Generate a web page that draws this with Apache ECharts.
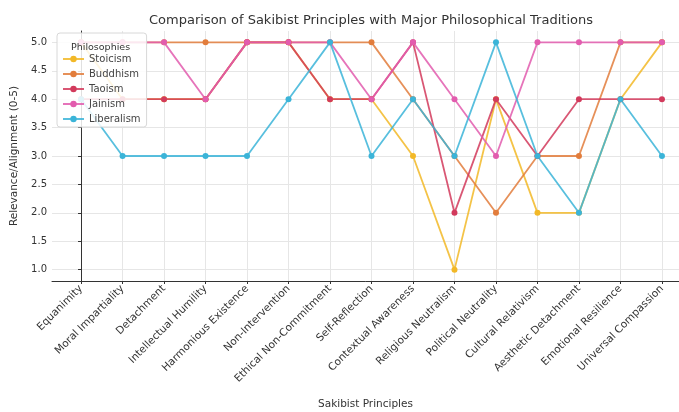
<!DOCTYPE html>
<html>
<head>
<meta charset="utf-8">
<script src="https://cdn.jsdelivr.net/npm/echarts@6/dist/echarts.min.js"></script>
<style>
html,body{margin:0;padding:0;background:#fff;}
#c{width:679px;height:412px;}
</style>
</head>
<body>
<div id="c"></div>
<script>
const categories = ["Equanimity","Moral Impartiality","Detachment","Intellectual Humility","Harmonious Existence","Non-Intervention","Ethical Non-Commitment","Self-Reflection","Contextual Awareness","Religious Neutralism","Political Neutrality","Cultural Relativism","Aesthetic Detachment","Emotional Resilience","Universal Compassion"];
const stoicism   = [5,4,4,4,5,5,4,4,3,1,4,2,2,4,5];
const buddhism   = [5,5,5,5,5,5,5,5,4,3,2,3,3,5,5];
const taoism     = [4,4,4,4,5,5,4,4,5,2,4,3,4,4,4];
const jainism    = [5,5,5,4,5,5,5,4,5,4,3,5,5,5,5];
const liberalism = [4,3,3,3,3,4,5,3,4,3,5,3,2,4,3];
const seriesNames = ["Stoicism","Buddhism","Taoism","Jainism","Liberalism"];
const seriesValues = [stoicism,buddhism,taoism,jainism,liberalism];
const colors = ["#f2b827","#e27d3c","#d23a5c","#e25cae","#3bb4d8"];
const yTicks = [1.0,1.5,2.0,2.5,3.0,3.5,4.0,4.5,5.0];
const xTicks = categories.map((_, i) => i);

const font = "DejaVu Sans";
const chart = echarts.init(document.getElementById('c'));
chart.setOption({
  animation: false,
  backgroundColor: '#fff',
  textStyle: {fontFamily: font},
  title: [
    {text: 'Comparison of Sakibist Principles with Major Philosophical Traditions', left: 366, top: 9, textAlign: 'center',
     textStyle: {fontFamily: font, fontSize: 13, fontWeight: 'normal', color: '#333'}},
    {text: 'Philosophies', left: 66, top: 38, textStyle: {fontFamily: font, fontSize: 9.5, fontWeight: 'normal', color: '#333'}}
  ],
  legend: {
    orient: 'vertical', left: 57, top: 33,
    padding: [21, 6, 3, 5], itemGap: 5, itemWidth: 21, itemHeight: 8,
    backgroundColor: 'rgba(255,255,255,0.85)', borderColor: '#d8d8d8', borderWidth: 1, borderRadius: 3,
    textStyle: {fontFamily: font, fontSize: 10, color: '#444'},
    data: seriesNames
  },
  grid: {left: 52, top: 31, width: 639, height: 250, containLabel: false, outerBoundsMode: 'none'},
  xAxis: {
    type: 'value', min: -0.7, max: 14.7,
    name: 'Sakibist Principles', nameLocation: 'middle', nameGap: 118,
    nameTextStyle: {fontFamily: font, fontSize: 10.5, color: '#333', padding: [0, 12, 0, 0]},
    axisLine: {show: true, onZero: false, lineStyle: {color: '#333', width: 1}},
    axisTick: {show: true, customValues: xTicks, length: 3, lineStyle: {color: '#333'}},
    axisLabel: {customValues: xTicks, rotate: 45, fontSize: 10.5, color: '#333', fontFamily: font, margin: 6,
      formatter: v => categories[Math.round(v)] || ''},
    splitLine: {show: true, lineStyle: {color: '#e6e6e6', width: 1}}
  },
  yAxis: {
    type: 'value', min: 0.8, max: 5.2,
    name: 'Relevance/Alignment (0-5)', nameLocation: 'middle', nameGap: 19,
    nameTextStyle: {fontFamily: font, fontSize: 10.5, color: '#333'},
    axisLine: {show: true, lineStyle: {color: '#333', width: 1}},
    axisTick: {show: true, customValues: yTicks, length: 3, lineStyle: {color: '#333'}},
    axisLabel: {customValues: yTicks, fontSize: 10, color: '#333', fontFamily: font, margin: 5,
      formatter: v => v.toFixed(1)},
    splitLine: {show: true, lineStyle: {color: '#e6e6e6', width: 1}}
  },
  series: seriesNames.map((n, k) => ({
    name: n, type: 'line',
    data: seriesValues[k].map((v, i) => [i, v]),
    symbol: 'circle', symbolSize: 6,
    itemStyle: {color: colors[k]},
    lineStyle: {color: colors[k], width: 1.8, opacity: 0.85},
    clip: false
  }))
});
</script>
</body>
</html>
